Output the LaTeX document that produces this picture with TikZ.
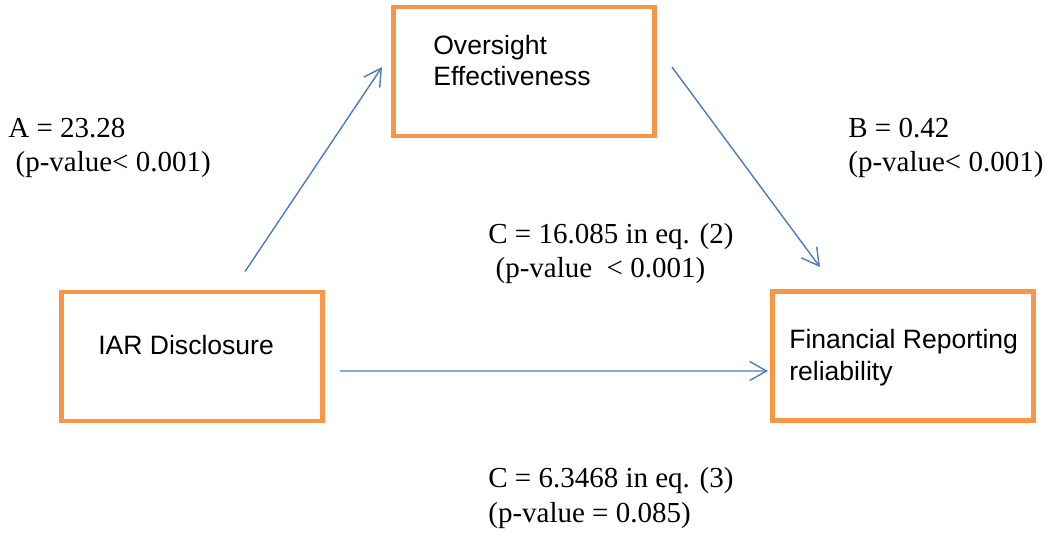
\documentclass[tikz,border=0pt]{standalone}
\usepackage{fontspec}
\setmainfont{Liberation Serif}
\setsansfont{Liberation Sans}
\usetikzlibrary{arrows.meta}
\definecolor{boxorange}{RGB}{247,150,70}
\definecolor{lineblue}{RGB}{74,126,187}

\begin{document}
\begin{tikzpicture}[
  varbox/.style={draw=boxorange, line width=2.8pt, minimum width=5.22cm, minimum height=2.58cm},
  vartext/.style={align=left, inner sep=0pt, anchor=base west, font=\sffamily\fontsize{15.1}{18.2}\selectfont},
  coef/.style={align=left, inner sep=0pt, anchor=base west, font=\fontsize{16.5}{19.9}\selectfont},
  link/.style={draw=lineblue, line width=0.8pt, -{Straight Barb[length=0.34cm,width=0.38cm]}}
]
\useasboundingbox (0,0) rectangle (21,10.7);

\node[varbox] (ov) at (10.48,9.27) {};
\node[varbox] (iar) at (3.84,3.57) {};
\node[varbox] (frr) at (18.06,3.58) {};

% base anchor = baseline of the last line
\node[vartext] (ovtext) at (8.66,8.98) {Oversight\\Effectiveness};
\node[vartext] (iartext) at (1.96,3.6) {IAR Disclosure};
\node[vartext] (frrtext) at (15.78,3.1) {Financial Reporting\\reliability};

\draw[link] ([xshift=1.06cm,yshift=0.36cm]iar.north) -- ([xshift=-0.18cm,yshift=0.09cm]ov.west);
\draw[link] ([xshift=0.3cm,yshift=0.09cm]ov.east) -- ([xshift=-1.66cm,yshift=0.44cm]frr.north);
\draw[link] ([xshift=0.3cm,yshift=-0.29cm]iar.east) -- ([xshift=-0.04cm,yshift=-0.3cm]frr.west);

\node[coef] (a) at (0.16,7.26) {A = 23.28\\\ (p-value< 0.001)};
\node[coef] (b) at (16.96,7.26) {B = 0.42\\(p-value< 0.001)};
\node[coef] (c2) at (9.76,5.14) {C = 16.085 in eq. (2)\\\ (p-value~~< 0.001)};
\node[coef] (c3) at (9.76,0.26) {C = 6.3468 in eq. (3)\\(p-value = 0.085)};
\end{tikzpicture}
\end{document}
